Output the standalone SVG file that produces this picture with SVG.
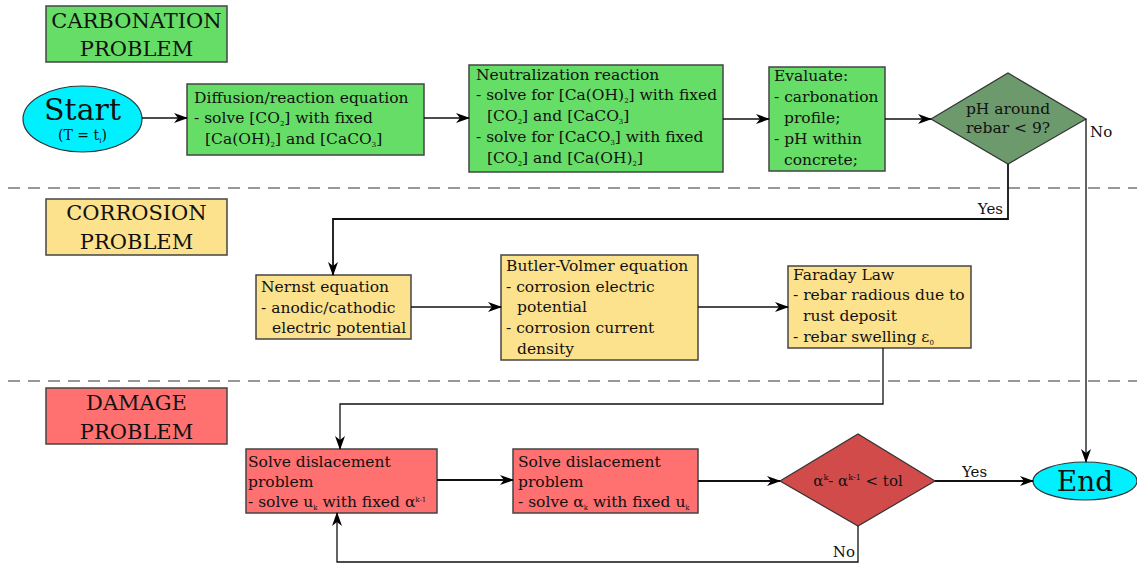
<svg xmlns="http://www.w3.org/2000/svg" width="1137" height="564" viewBox="0 0 1137 564">
<defs>
<marker id="arr" viewBox="0 0 14 10" refX="13" refY="5" markerWidth="14" markerHeight="10" markerUnits="userSpaceOnUse" orient="auto">
<path d="M0,0 L14,5 L0,10 L4,5 z" fill="#000"/>
</marker>
<style>
text{font-family:"DejaVu Serif","Liberation Serif",serif;fill:#111;}
.t{font-size:15.5px;}
.h{font-size:21px;text-anchor:middle;}
.box{stroke:#444;stroke-width:1.5;}
.g{fill:#66dd66;}
.y{fill:#fde28d;}
.r{fill:#ff7070;}
.cy{fill:#00f0ff;stroke:#333;stroke-width:1.2;}
.c{fill:none;stroke:#111;stroke-width:1.3;}
.ca{fill:none;stroke:#111;stroke-width:1.3;marker-end:url(#arr);}
.dash{stroke:#333;stroke-width:1.2;stroke-dasharray:12 8;}
.s{font-size:7px;}
.lab{font-size:15px;}
</style>
</defs>
<rect width="1137" height="564" fill="#fff"/>
<line class="dash" x1="8" y1="188" x2="1137" y2="188"/>
<line class="dash" x1="8" y1="381" x2="1137" y2="381"/>

<g id="hdr-carbonation"><rect class="box g" x="46" y="6" width="181" height="56"/><text class="h" x="136.5" y="28">CARBONATION</text><text class="h" x="136.5" y="56">PROBLEM</text></g>
<g id="hdr-corrosion"><rect class="box y" x="46" y="199" width="181" height="56"/><text class="h" x="136.5" y="220">CORROSION</text><text class="h" x="136.5" y="249">PROBLEM</text></g>
<g id="hdr-damage"><rect class="box r" x="46" y="388" width="181" height="56"/><text class="h" x="136.5" y="410">DAMAGE</text><text class="h" x="136.5" y="439">PROBLEM</text></g>

<g id="start"><ellipse class="cy" cx="82.5" cy="119" rx="59.5" ry="33"/><text x="82.5" y="120" font-size="30" text-anchor="middle">Start</text><text x="82.5" y="140" font-size="14" text-anchor="middle">(T = t<tspan class="s" dy="3">i</tspan><tspan dy="-3">)</tspan></text></g>

<g id="diffusion"><rect class="box g" x="187" y="84" width="237" height="71"/>
<text class="t" x="194" y="103">Diffusion/reaction equation</text>
<text class="t" x="194" y="123">- solve [CO<tspan class="s" dy="3">2</tspan><tspan dy="-3">] with fixed</tspan></text>
<text class="t" x="205" y="144">[Ca(OH)<tspan class="s" dy="3">2</tspan><tspan dy="-3">] and [CaCO</tspan><tspan class="s" dy="3">3</tspan><tspan dy="-3">]</tspan></text></g>

<g id="neutralization"><rect class="box g" x="469" y="65" width="254" height="107"/>
<text class="t" x="476" y="80">Neutralization reaction</text>
<text class="t" x="476" y="100">- solve for [Ca(OH)<tspan class="s" dy="3">2</tspan><tspan dy="-3">] with fixed</tspan></text>
<text class="t" x="487" y="121">[CO<tspan class="s" dy="3">2</tspan><tspan dy="-3">] and [CaCO</tspan><tspan class="s" dy="3">3</tspan><tspan dy="-3">]</tspan></text>
<text class="t" x="476" y="142">- solve for [CaCO<tspan class="s" dy="3">3</tspan><tspan dy="-3">] with fixed</tspan></text>
<text class="t" x="487" y="163">[CO<tspan class="s" dy="3">2</tspan><tspan dy="-3">] and [Ca(OH)</tspan><tspan class="s" dy="3">2</tspan><tspan dy="-3">]</tspan></text></g>

<g id="evaluate"><rect class="box g" x="769" y="67" width="116" height="104"/>
<text class="t" x="774" y="81">Evaluate:</text>
<text class="t" x="774" y="102">- carbonation</text>
<text class="t" x="784" y="123">profile;</text>
<text class="t" x="774" y="144">- pH within</text>
<text class="t" x="784" y="165">concrete;</text></g>

<g id="ph-decision"><polygon points="931,119 1008,73 1086,119 1008,164" fill="#6c9a6c" stroke="#333" stroke-width="1.2"/>
<text class="t" x="1008" y="114" text-anchor="middle">pH around</text>
<text class="t" x="1008" y="133" text-anchor="middle">rebar &lt; 9?</text></g>

<g id="nernst"><rect class="box y" x="256" y="275" width="155" height="64"/>
<text class="t" x="261" y="292">Nernst equation</text>
<text class="t" x="261" y="313">- anodic/cathodic</text>
<text class="t" x="272" y="333">electric potential</text></g>

<g id="butler"><rect class="box y" x="501" y="255" width="197" height="105"/>
<text class="t" x="506" y="271">Butler-Volmer equation</text>
<text class="t" x="506" y="292">- corrosion electric</text>
<text class="t" x="517" y="312">potential</text>
<text class="t" x="506" y="333">- corrosion current</text>
<text class="t" x="517" y="354">density</text></g>

<g id="faraday"><rect class="box y" x="788" y="266" width="183" height="82"/>
<text class="t" x="793" y="280">Faraday Law</text>
<text class="t" x="793" y="300">- rebar radious due to</text>
<text class="t" x="803" y="321">rust deposit</text>
<text class="t" x="793" y="342">- rebar swelling ε<tspan class="s" dy="3">0</tspan></text></g>

<g id="solve-u"><rect class="box r" x="246" y="449" width="191" height="64"/>
<text class="t" x="248" y="467">Solve dislacement</text>
<text class="t" x="248" y="487">problem</text>
<text class="t" x="248" y="507">- solve u<tspan class="s" dy="3">k</tspan><tspan dy="-3"> with fixed α</tspan><tspan class="s" dy="-5">k-1</tspan></text></g>

<g id="solve-alpha"><rect class="box r" x="513" y="449" width="185" height="64"/>
<text class="t" x="518" y="467">Solve dislacement</text>
<text class="t" x="518" y="487">problem</text>
<text class="t" x="518" y="507">- solve α<tspan class="s" dy="3">k</tspan><tspan dy="-3"> with fixed u</tspan><tspan class="s" dy="3">k</tspan></text></g>

<g id="tol-decision"><polygon points="780,481 858,434 935,481 858,526" fill="#d24b4b" stroke="#333" stroke-width="1.2"/>
<text x="858" y="486" font-family="DejaVu Sans, sans-serif" font-size="15" text-anchor="middle">α<tspan font-size="8" dy="-6">k</tspan><tspan dy="6">- α</tspan><tspan font-size="8" dy="-6">k-1</tspan><tspan dy="6"> &lt; tol</tspan></text></g>

<g id="end"><ellipse class="cy" cx="1085" cy="481" rx="52" ry="19"/><text x="1085" y="491" font-size="28" text-anchor="middle">End</text></g>

<g id="connectors">
<line class="ca" x1="142" y1="118" x2="187" y2="118"/>
<line class="ca" x1="424" y1="118" x2="469" y2="118"/>
<line class="ca" x1="723" y1="119" x2="769" y2="119"/>
<line class="ca" x1="885" y1="119" x2="931" y2="119"/>
<polyline class="ca" points="1008,164 1008,219 333,219 333,275" style="stroke-width:1.8"/>
<text class="lab" x="1003" y="214" text-anchor="end">Yes</text>
<line class="ca" x1="1086" y1="119" x2="1086" y2="462"/>
<text class="lab" x="1090" y="137">No</text>
<line class="ca" x1="411" y1="307" x2="501" y2="307"/>
<line class="ca" x1="698" y1="307" x2="788" y2="307"/>
<polyline class="ca" points="883,348 883,404 340,404 340,449"/>
<line class="ca" x1="437" y1="480" x2="513" y2="480" style="stroke-width:1.8"/>
<line class="ca" x1="698" y1="481" x2="780" y2="481" style="stroke-width:1.8"/>
<line class="ca" x1="935" y1="481" x2="1033" y2="481" style="stroke-width:1.8"/>
<text class="lab" x="962" y="477">Yes</text>
<polyline class="ca" points="858,526 858,562 337,562 337,513"/>
<text class="lab" x="855" y="557" text-anchor="end">No</text>
</g>
</svg>
